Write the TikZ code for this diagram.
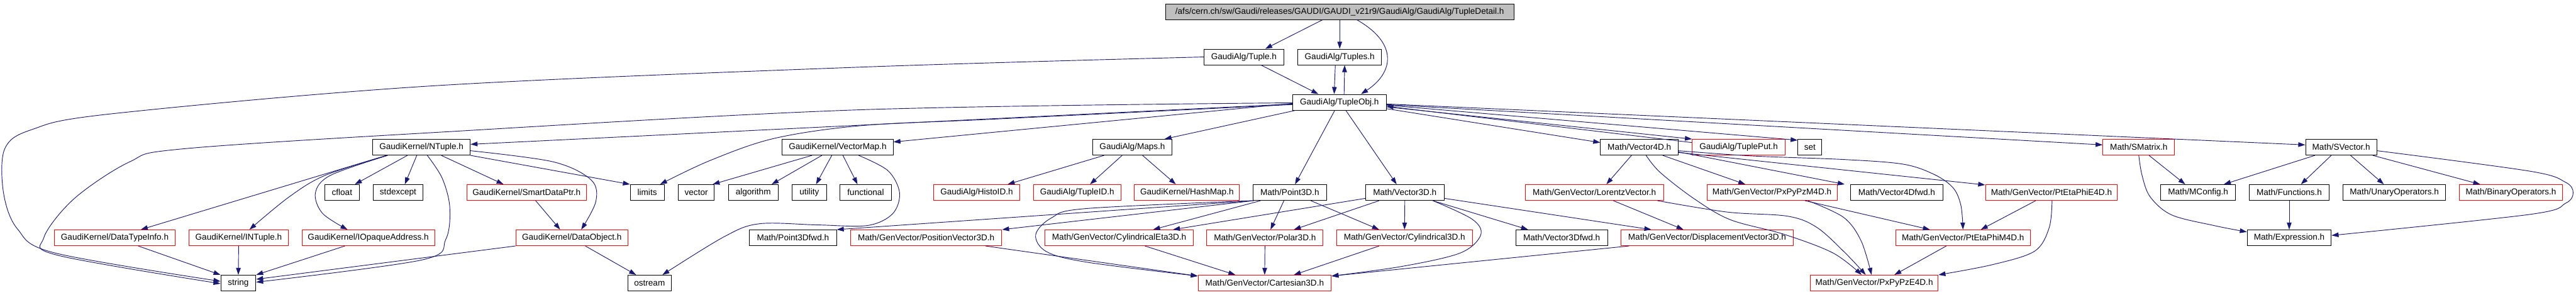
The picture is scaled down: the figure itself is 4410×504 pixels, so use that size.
\documentclass[tikz,border=0pt]{standalone}
\usepackage{fontspec}
\setmainfont{Liberation Sans}
\usetikzlibrary{arrows.meta}
\definecolor{edgec}{HTML}{191970}
\definecolor{topfill}{HTML}{BFBFBF}
\newcommand\mkbox[6]{\node[#1, minimum width={#4-#3}] (#2) at ({(#3+#4)/2},#5) {#6};}
\begin{document}
\begin{tikzpicture}[x=1pt,y=-1pt,
  box/.style={draw=black, fill=white, line width=1pt, minimum height=27pt, inner xsep=2pt, inner ysep=0pt, font=\fontsize{14.6}{16}\selectfont, text=black},
  rbox/.style={box, draw=red},
  gbox/.style={box, fill=topfill},
  lnk/.style={draw=edgec, line width=1pt, -{Triangle[length=12pt,width=8pt]}},
  sm/.style={smooth, tension=0.55}
]
\useasboundingbox (0,0) rectangle (4410,504);
\fill[white] (0,0) rectangle (4410,504);
% ---- nodes
\mkbox{gbox}{td}{1995}{2592}{20}{/afs/cern.ch/sw/Gaudi/releases/GAUDI/GAUDI\_v21r9/GaudiAlg/GaudiAlg/TupleDetail.h}
\mkbox{box}{tuple}{2061}{2198}{97.5}{GaudiAlg/Tuple.h}
\mkbox{box}{tuples}{2222}{2365}{97.5}{GaudiAlg/Tuples.h}
\mkbox{box}{tobj}{2213}{2373}{175}{GaudiAlg/TupleObj.h}
% row 4
\mkbox{box}{ntuple}{638}{805}{252}{GaudiKernel/NTuple.h}
\mkbox{box}{vmap}{1339}{1529}{252}{GaudiKernel/VectorMap.h}
\mkbox{box}{maps}{1871}{2006}{252}{GaudiAlg/Maps.h}
\mkbox{box}{v4d}{2740}{2873}{252}{Math/Vector4D.h}
\mkbox{rbox}{tput}{2897}{3056}{252}{GaudiAlg/TuplePut.h}
\mkbox{box}{set}{3078}{3119}{252}{set}
\mkbox{rbox}{smatrix}{3600}{3723}{252}{Math/SMatrix.h}
\mkbox{box}{svector}{3947}{4069}{252}{Math/SVector.h}
% row 5
\mkbox{box}{cfloat}{556}{615}{329.5}{cfloat}
\mkbox{box}{stdexcept}{639}{724}{329.5}{stdexcept}
\mkbox{rbox}{sdp}{799}{1004}{329.5}{GaudiKernel/SmartDataPtr.h}
\mkbox{box}{limits}{1079}{1137}{329.5}{limits}
\mkbox{box}{vector}{1161}{1223}{329.5}{vector}
\mkbox{box}{algorithm}{1247}{1332}{329.5}{algorithm}
\mkbox{box}{utility}{1356}{1415}{329.5}{utility}
\mkbox{box}{functional}{1438}{1526}{329.5}{functional}
\mkbox{rbox}{histoid}{1598}{1746}{329.5}{GaudiAlg/HistoID.h}
\mkbox{rbox}{tupleid}{1769}{1919}{329.5}{GaudiAlg/TupleID.h}
\mkbox{rbox}{hashmap}{1942}{2122}{329.5}{GaudiKernel/HashMap.h}
\mkbox{box}{p3d}{2145}{2271}{329.5}{Math/Point3D.h}
\mkbox{box}{v3d}{2338}{2472}{329.5}{Math/Vector3D.h}
\mkbox{rbox}{lorentz}{2611}{2848}{329.5}{Math/GenVector/LorentzVector.h}
\mkbox{rbox}{pxm}{2922}{3145}{329.5}{Math/GenVector/PxPyPzM4D.h}
\mkbox{box}{v4fwd}{3168}{3326}{329.5}{Math/Vector4Dfwd.h}
\mkbox{rbox}{pte}{3399}{3625}{329.5}{Math/GenVector/PtEtaPhiE4D.h}
\mkbox{box}{mconfig}{3699}{3827}{329.5}{Math/MConfig.h}
\mkbox{box}{functions}{3851}{3987}{329.5}{Math/Functions.h}
\mkbox{box}{unary}{4011}{4187}{329.5}{Math/UnaryOperators.h}
\mkbox{rbox}{binary}{4210}{4387}{329.5}{Math/BinaryOperators.h}
% row 6
\mkbox{rbox}{dti}{93}{300}{407}{GaudiKernel/DataTypeInfo.h}
\mkbox{rbox}{intuple}{323}{494}{407}{GaudiKernel/INTuple.h}
\mkbox{rbox}{iopaque}{517}{744}{407}{GaudiKernel/IOpaqueAddress.h}
\mkbox{rbox}{dobj}{883}{1075}{407}{GaudiKernel/DataObject.h}
\mkbox{box}{p3fwd}{1283}{1432}{407}{Math/Point3Dfwd.h}
\mkbox{rbox}{posv}{1456}{1715}{407}{Math/GenVector/PositionVector3D.h}
\mkbox{rbox}{cyleta}{1789}{2043}{407}{Math/GenVector/CylindricalEta3D.h}
\mkbox{rbox}{polar}{2066}{2265}{407}{Math/GenVector/Polar3D.h}
\mkbox{rbox}{cyl}{2288}{2521}{407}{Math/GenVector/Cylindrical3D.h}
\mkbox{box}{v3fwd}{2595}{2752}{407}{Math/Vector3Dfwd.h}
\mkbox{rbox}{disp}{2775}{3070}{407}{Math/GenVector/DisplacementVector3D.h}
\mkbox{rbox}{ptm}{3245}{3476}{407}{Math/GenVector/PtEtaPhiM4D.h}
\mkbox{box}{expr}{3847}{3991}{407}{Math/Expression.h}
% row 7
\mkbox{box}{string}{378}{438}{484.5}{string}
\mkbox{box}{ostream}{1075}{1149}{484.5}{ostream}
\mkbox{rbox}{cart}{2051}{2279}{484.5}{Math/GenVector/Cartesian3D.h}
\mkbox{rbox}{pxe}{3099}{3318}{484.5}{Math/GenVector/PxPyPzE4D.h}
% ---- edges: top
\draw[lnk] ([xshift=-29.5pt]td.south) -- ([xshift=36.5pt]tuple.north);
\draw[lnk] (td.south) -- (tuples.north);
\draw[lnk] ([xshift=29.5pt]td.south) .. controls (2395,75) and (2385,125) .. ([xshift=37pt]tobj.north);
\draw[lnk] ([xshift=29.5pt]tuple.south) -- ([xshift=-36pt]tobj.north);
\draw[lnk] ([xshift=-7.5pt]tuples.south) -- ([xshift=-9pt]tobj.north);
\draw[lnk] ([xshift=8pt]tobj.north) -- ([xshift=8.5pt]tuples.south);
\draw[lnk] plot[sm] coordinates {(tuple.west) (1470,115) (740,147) (189,195) (54,222) (8,255) (6,330) (30,392) (94,433) ([yshift=3pt]string.west)};
% TupleObj
\draw[lnk] ([yshift=-3pt]tobj.west) -- ([yshift=5pt]ntuple.east);
\draw[lnk] plot[sm] coordinates {([yshift=-1pt]tobj.west) (1470,188) (740,227) (311,255) (222,277) (127,340) (75,407) (99,437) ([yshift=-1pt]string.west)};
\draw[lnk] plot[sm] coordinates {([yshift=-4pt]tobj.west) (1700,204) (1475,215) (1325,237) (1215,275) ([xshift=22pt]limits.north)};
\draw[lnk] ([yshift=-2pt]tobj.west) -- ([yshift=9pt]vmap.east);
\draw[lnk] ([xshift=5pt]tobj.south west) -- ([xshift=-13pt]maps.north east);
\draw[lnk] ([xshift=-8pt]tobj.south) -- ([xshift=9pt]p3d.north);
\draw[lnk] ([xshift=11pt]tobj.south) -- ([xshift=-14pt]v3d.north);
\draw[lnk] ([yshift=-11pt]tobj.east) -- ([yshift=8pt]v4d.west);
\draw[lnk] ([yshift=-8pt]tobj.east) -- (tput.north west);
\draw[lnk] ([yshift=8pt]tput.west) -- ([yshift=-7pt]tobj.east);
\draw[lnk] ([yshift=-5pt]tobj.east) -- ([yshift=-2pt]set.north west);
\draw[lnk] ([yshift=-4pt]tobj.east) -- ([yshift=4pt]smatrix.west);
\draw[lnk] ([yshift=-3pt]tobj.east) -- ([yshift=4pt]svector.west);
% NTuple
\draw[lnk] ([xshift=-60pt]ntuple.south) -- ([xshift=44.5pt]dti.north);
\draw[lnk] plot[sm] coordinates {([xshift=-58pt]ntuple.south) (557,300) (495,337) ([xshift=18.5pt]intuple.north)};
\draw[lnk] plot[sm] coordinates {([xshift=-58pt]ntuple.south) (566,300) (540,330) (552,365) ([xshift=-35.5pt]iopaque.north)};
\draw[lnk] ([xshift=-24pt]ntuple.south) -- ([xshift=22pt]cfloat.north);
\draw[lnk] ([xshift=-8pt]ntuple.south) -- ([xshift=11.5pt]stdexcept.north);
\draw[lnk] ([xshift=34pt]ntuple.south) -- ([xshift=-39.5pt]sdp.north);
\draw[lnk] plot[sm] coordinates {([yshift=-6pt]ntuple.east) (947,277) (1012,308) (1020,345) ([xshift=16pt]dobj.north)};
\draw[lnk] (ntuple.south east) -- (limits.north west);
\draw[lnk] plot[sm] coordinates {([xshift=10pt]ntuple.south) (757,305) (770,355) (763,410) (722,445) ([yshift=1.5pt]string.east)};
% into string / ostream
\draw[lnk] ([xshift=40pt]dti.south) -- (string.north west);
\draw[lnk] (intuple.south) -- (string.north);
\draw[lnk] ([xshift=-40pt]iopaque.south) -- (string.north east);
\draw[lnk] (dobj.south west) -- ([yshift=6.5pt]string.east);
\draw[lnk] ([xshift=23pt]dobj.south) -- ([xshift=-23pt]ostream.north);
\draw[lnk] ([xshift=15.5pt]sdp.south) -- ([xshift=-20pt]dobj.north);
% VectorMap
\draw[lnk] ([xshift=-44pt]vmap.south) -- ([xshift=28pt]vector.north);
\draw[lnk] ([xshift=-27pt]vmap.south) -- ([xshift=31.5pt]algorithm.north);
\draw[lnk] ([xshift=-10pt]vmap.south) -- ([xshift=11.5pt]utility.north);
\draw[lnk] ([xshift=9pt]vmap.south) -- ([xshift=-14pt]functional.north);
\draw[lnk] plot[sm] coordinates {([xshift=36pt]vmap.south) (1520,292) (1540,330) (1528,366) (1485,386) (1400,385) (1300,383) (1240,405) ([xshift=22pt]ostream.north)};
% Maps
\draw[lnk] ([xshift=-48.5pt]maps.south) -- ([xshift=53pt]histoid.north);
\draw[lnk] ([xshift=-17.5pt]maps.south) -- ([xshift=22pt]tupleid.north);
\draw[lnk] ([xshift=17.5pt]maps.south) -- ([xshift=-19pt]hashmap.north);
% Point3D
\draw[lnk] ([xshift=-62pt]p3d.south) -- (p3fwd.north east);
\draw[lnk] ([xshift=-62pt]p3d.south) -- (posv.north east);
\draw[lnk] plot[sm] coordinates {([xshift=-65pt]p3d.south) (1859,357) (1800,373) (1773,402) (1792,431) (1862,449) ([yshift=12pt]cart.west)};
\draw[lnk] ([xshift=-50pt]p3d.south) -- ([xshift=58pt]cyleta.north);
\draw[lnk] ([xshift=-10pt]p3d.south) -- ([xshift=9.5pt]polar.north);
\draw[lnk] ([xshift=36pt]p3d.south) -- ([xshift=-43.5pt]cyl.north);
% Vector3D
\draw[lnk] ([yshift=-10pt]v3d.west) -- ([xshift=92pt]cyleta.north);
\draw[lnk] ([xshift=-44pt]v3d.south) -- ([xshift=49.5pt]polar.north);
\draw[lnk] (v3d.south) -- (cyl.north);
\draw[lnk] plot[sm] coordinates {([xshift=48pt]v3d.south) (2520,375) (2535,402) (2500,433) (2400,456) ([yshift=12pt]cart.east)};
\draw[lnk] ([xshift=48pt]v3d.south) -- ([xshift=-57.5pt]v3fwd.north);
\draw[lnk] ([yshift=-10pt]v3d.east) -- ([xshift=-95.5pt]disp.north);
% into Cartesian3D
\draw[lnk] ([xshift=-43.5pt]cyl.south) -- ([xshift=50pt]cart.north);
\draw[lnk] ([xshift=-133.5pt]disp.south) -- ([yshift=12pt]cart.east);
\draw[lnk] ([xshift=44pt]cyleta.south) -- ([xshift=-50pt]cart.north);
\draw[lnk] (polar.south) -- (cart.north);
\draw[lnk] ([xshift=101.5pt]posv.south) -- ([yshift=12pt]cart.west);
% Vector4D
\draw[lnk] ([xshift=-13.5pt]v4d.south) -- ([xshift=20.5pt]lorentz.north);
\draw[lnk] ([xshift=40pt]v4d.south) -- ([xshift=-45.5pt]pxm.north);
\draw[lnk] plot[sm] coordinates {([xshift=11.5pt]v4d.south) (2842,295) (2900,340) (2962,376) (3054,401) (3138,433) ([xshift=-21.5pt]pxe.north)};
\draw[lnk] ([yshift=-8pt]v4d.east) -- ([xshift=-89pt]v4fwd.north);
\draw[lnk] ([yshift=-9pt]v4d.east) -- ([yshift=-1pt]pte.north west);
\draw[lnk] plot[sm] coordinates {([yshift=-6pt]v4d.east) (3000,267) (3156,273) (3258,281) (3312,299) (3344,322) (3357,352) (ptm.north)};
% LorentzVector
\draw[lnk] ([xshift=32.5pt]lorentz.south) -- ([xshift=-40.5pt]disp.north);
\draw[lnk] plot[sm] coordinates {([xshift=108pt]lorentz.south) (2957,363) (3060,370) (3110,389) (3158,432) ([xshift=-14.5pt]pxe.north)};
% 4D coordinate systems
\draw[lnk] ([xshift=56.5pt]pxm.south) -- ([xshift=-56.5pt]ptm.north);
\draw[lnk] plot[sm] coordinates {([xshift=61.5pt]pxm.south) (3156,372) (3186,412) ([xshift=-4.5pt]pxe.north)};
\draw[lnk] ([xshift=-27pt]pte.south) -- ([xshift=30.5pt]ptm.north);
\draw[lnk] plot[sm] coordinates {([xshift=1pt]pte.south) (3508,390) (3483,430) (3411,453) (pxe.north east)};
\draw[lnk] ([xshift=-28.5pt]ptm.south) -- ([xshift=34.5pt]pxe.north);
% SMatrix / SVector
\draw[lnk] ([xshift=17.5pt]smatrix.south) -- ([xshift=-22pt]mconfig.north);
\draw[lnk] plot[sm] coordinates {(smatrix.south) (3667,300) (3681,337) (3718,368) (3790,386) ([yshift=10pt]expr.west)};
\draw[lnk] ([xshift=-45pt]svector.south) -- ([xshift=44pt]mconfig.north);
\draw[lnk] ([xshift=-17pt]svector.south) -- ([xshift=20pt]functions.north);
\draw[lnk] ([xshift=16pt]svector.south) -- ([xshift=-18pt]unary.north);
\draw[lnk] ([xshift=54pt]svector.south) -- ([xshift=-52.5pt]binary.north);
\draw[lnk] plot[sm] coordinates {([yshift=-6pt]svector.east) (4331,293) (4392,312) (4405,330) (4392,348) (4331,367) ([yshift=4pt]expr.east)};
\draw[lnk] (functions.south) -- (expr.north);
\end{tikzpicture}
\end{document}
